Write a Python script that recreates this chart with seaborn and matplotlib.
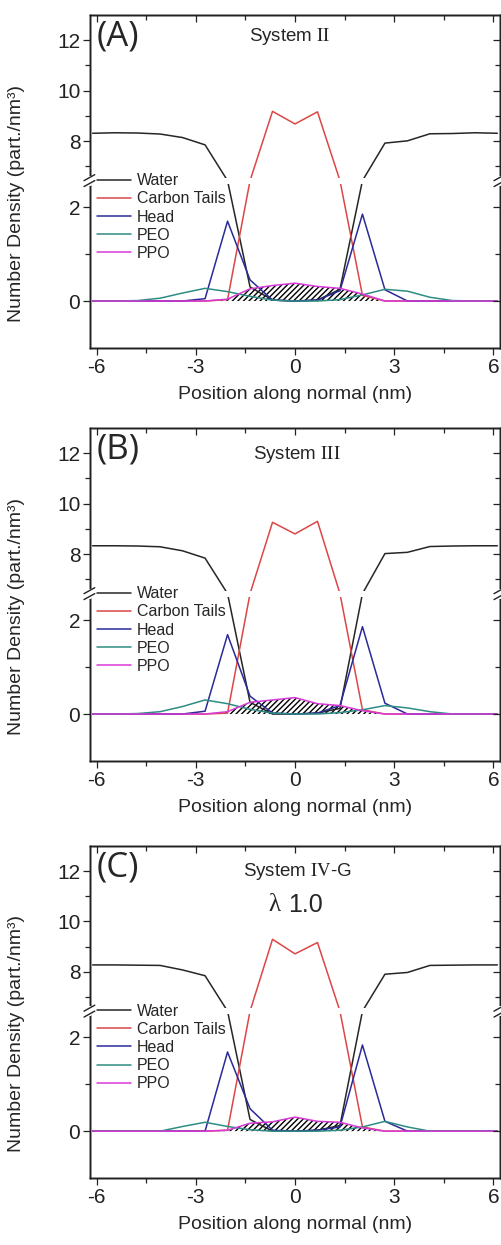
import numpy as np
import pandas as pd
import matplotlib
matplotlib.use("Agg")
import matplotlib.pyplot as plt
import seaborn as sns
from matplotlib.lines import Line2D

# ---------------------------------------------------------------- data
positions = [-6.12, -5.44, -4.76, -4.08, -3.40, -2.72, -2.04, -1.36, -0.68, 0.0,
             0.68, 1.36, 2.04, 2.72, 3.40, 4.08, 4.76, 5.44, 6.12]

water_a = [8.31, 8.33, 8.32, 8.28, 8.14, 7.85, 4.5, 0.30, 0.02, 0.0,
           0.02, 0.25, 4.5, 7.92, 8.01, 8.29, 8.30, 8.33, 8.31]
carbon_a = [0, 0, 0, 0, 0, 0, 0.03, 4.5, 9.18, 8.68, 9.16, 4.5, 0.12, 0, 0, 0, 0, 0, 0]
head_a = [0, 0, 0, 0, 0, 0.05, 1.70, 0.45, 0.02, 0, 0.02, 0.22, 1.85, 0.24, 0, 0, 0, 0, 0]
peo_a = [0, 0, 0.01, 0.06, 0.17, 0.27, 0.20, 0.10, 0.02, 0, 0, 0.03, 0.13, 0.25, 0.21, 0.08, 0.01, 0, 0]
ppo_a = [0, 0, 0, 0, 0, 0, 0.04, 0.26, 0.33, 0.38, 0.31, 0.27, 0.15, 0, 0, 0, 0, 0, 0]

water_b = [8.33, 8.33, 8.32, 8.29, 8.13, 7.84, 4.5, 0.25, 0.0, 0.0,
           0.02, 0.12, 4.5, 8.02, 8.07, 8.30, 8.32, 8.33, 8.33]
carbon_b = [0, 0, 0, 0, 0, 0, 0.02, 4.5, 9.26, 8.80, 9.30, 4.5, 0.09, 0, 0, 0, 0, 0, 0]
head_b = [0, 0, 0, 0, 0, 0.06, 1.69, 0.38, 0.02, 0, 0.02, 0.18, 1.86, 0.23, 0, 0, 0, 0, 0]
peo_b = [0, 0, 0.01, 0.05, 0.16, 0.30, 0.22, 0.10, 0.02, 0, 0, 0.03, 0.09, 0.18, 0.13, 0.05, 0, 0, 0]
ppo_b = [0, 0, 0, 0, 0, 0, 0.05, 0.25, 0.30, 0.35, 0.22, 0.18, 0.07, 0, 0, 0, 0, 0, 0]

water_c = [8.27, 8.27, 8.26, 8.25, 8.07, 7.84, 4.5, 0.25, 0.0, 0.0,
           0.02, 0.12, 4.5, 7.90, 7.97, 8.25, 8.26, 8.27, 8.27]
carbon_c = [0, 0, 0, 0, 0, 0, 0.02, 4.5, 9.29, 8.71, 9.16, 4.5, 0.09, 0, 0, 0, 0, 0, 0]
head_c = [0, 0, 0, 0, 0, 0.0, 1.69, 0.48, 0.02, 0, 0.02, 0.09, 1.84, 0.21, 0, 0, 0, 0, 0]
peo_c = [0, 0, 0, 0.0, 0.10, 0.19, 0.10, 0.03, 0.0, 0, 0, 0.02, 0.09, 0.21, 0.09, 0.0, 0, 0, 0]
ppo_c = [0, 0, 0, 0, 0, 0, 0.02, 0.17, 0.20, 0.30, 0.21, 0.19, 0.07, 0, 0, 0, 0, 0, 0]

series_names = ["Water", "Carbon Tails", "Head", "PEO", "PPO"]
series_colors = ["#262626", "#dc4646", "#2a2a98", "#2e8c84", "#d83ad8"]
panel_letters = ["(A)", "(B)", "(C)"]
system_names = [r"System $\mathrm{II}$", r"System $\mathrm{III}$", r"System $\mathrm{IV}$-G"]
lambda_note = ["", "", "1.0"]
x_major = [-6, -3, 0, 3, 6]
x_minor = [-4.5, -1.5, 1.5, 4.5]
y_major = [0, 2, 8, 10, 12]
y_minor = [1, 7, 9, 11]

panels = [
    [water_a, carbon_a, head_a, peo_a, ppo_a],
    [water_b, carbon_b, head_b, peo_b, ppo_b],
    [water_c, carbon_c, head_c, peo_c, ppo_c],
]

# ---------------------------------------------------------------- style
sns.set_style("ticks")
plt.rcParams["font.family"] = ["Liberation Sans", "DejaVu Sans"]
plt.rcParams["mathtext.fontset"] = "stix"
plt.rcParams["axes.unicode_minus"] = False
plt.rcParams["hatch.linewidth"] = 1.0
plt.rcParams["hatch.color"] = "black"

W, H = 502, 1245
fig = plt.figure(figsize=(W / 100, H / 100), dpi=100)

# broken y axis: lower block [-1, 2.5], compressed gap, upper block [6.55, 13]
Y_MIN, LOW_TOP, UP_BOT, Y_MAX = -1.0, 2.5, 6.55, 13.0
S_LOW, GAP, S_UP = 47.5, 6.0, 25.5
d1 = (LOW_TOP - Y_MIN) * S_LOW
d2 = d1 + GAP
d3 = d2 + (Y_MAX - UP_BOT) * S_UP
knots_v = np.array([-1000.0, Y_MIN, LOW_TOP, UP_BOT, Y_MAX, 1000.0])
knots_d = np.array([(-1000.0 - Y_MIN) * S_LOW, 0.0, d1, d2, d3, d3 + (1000.0 - Y_MAX) * S_UP])


def fwd(v):
    return np.interp(v, knots_v, knots_d)


def inv(d):
    return np.interp(d, knots_d, knots_v)


frac_lo, frac_hi = d1 / d3, d2 / d3

tops = [15, 428, 846]
bottoms = [348, 761, 1178]
left_px, right_px = 90, 500
palette = dict(zip(series_names, series_colors))

for i, data in enumerate(panels):
    top, bot = tops[i], bottoms[i]
    ax_h = bot - top
    ax_w = right_px - left_px
    ax = fig.add_axes([left_px / W, 1 - bot / H, ax_w / W, ax_h / H])
    ax.set_yscale("function", functions=(fwd, inv))

    df = pd.DataFrame({
        "position": positions * len(series_names),
        "density": np.concatenate(data),
        "series": np.repeat(series_names, len(positions)),
    })

    ppo = data[4]
    ax.fill_between(positions, 0, ppo, facecolor="none", edgecolor="black",
                    hatch="//////", linewidth=0, zorder=1.5)
    sns.lineplot(data=df, x="position", y="density", hue="series",
                 hue_order=series_names, palette=palette, sort=False,
                 estimator=None, lw=1.1, ax=ax, legend=False, zorder=2)

    # hide the data inside the axis break
    ax.axhspan(LOW_TOP, UP_BOT, color="white", lw=0, zorder=2.3)

    ax.set_xlim(-6.2, 6.2)
    ax.set_ylim(Y_MIN, Y_MAX)
    ax.set_xticks(x_major)
    ax.set_xticks(x_minor, minor=True)
    ax.set_yticks(y_major)
    ax.set_yticks(y_minor, minor=True)
    ax.set_yticklabels([str(v) for v in y_major])
    ax.set_xticklabels([str(v) for v in x_major])
    ax.tick_params(which="both", direction="out", width=0.9, colors="#222222",
                   labelsize=15, pad=2)
    ax.tick_params(which="major", length=5)
    ax.tick_params(which="minor", length=3.5)
    for sp in ax.spines.values():
        sp.set_linewidth(1.0)
        sp.set_color("#222222")

    ax.set_xlabel("Position along normal (nm)", fontsize=14)
    ax.set_ylabel("Number Density (part./nm³)", fontsize=14)
    ax.xaxis.set_label_coords(0.5, -(386 - 348) / 333)
    ax.yaxis.set_label_coords(-0.159, 0.435)

    # opposite axes with inward ticks
    axr = ax.twinx()
    axr.set_yscale("function", functions=(fwd, inv))
    axr.set_ylim(Y_MIN, Y_MAX)
    axr.set_yticks(y_major)
    axr.set_yticks(y_minor, minor=True)
    axr.tick_params(which="both", direction="in", labelright=False, width=0.9,
                    colors="#222222")
    axr.tick_params(which="major", length=5)
    axr.tick_params(which="minor", length=3.5)
    axt = ax.twiny()
    axt.set_xlim(-6.2, 6.2)
    axt.set_xticks(x_major)
    axt.set_xticks(x_minor, minor=True)
    axt.tick_params(which="both", direction="in", labeltop=False, width=0.9,
                    colors="#222222")
    axt.tick_params(which="major", length=5)
    axt.tick_params(which="minor", length=3.5)
    for a in (axr, axt):
        for sp in a.spines.values():
            sp.set_linewidth(1.0)
            sp.set_color("#222222")

    # break marks on both vertical spines
    dx, dy = 6 / ax_w, 3 / ax_h
    for x0 in (0.0, 1.0):
        fig.add_artist(Line2D([x0, x0], [frac_lo, frac_hi], transform=ax.transAxes,
                              color="white", lw=3, zorder=5))
        for yb in (frac_lo, frac_hi):
            fig.add_artist(Line2D([x0 - dx, x0 + dx * 0.8], [yb - dy, yb + dy],
                                  transform=ax.transAxes, color="#222222",
                                  lw=1.0, zorder=6))

    handles = [Line2D([], [], color=c, lw=1.1) for c in series_colors]
    ax.legend(handles, series_names, loc="upper left", bbox_to_anchor=(0.017, 0.525),
              frameon=False, fontsize=11.5, handlelength=2.1, handletextpad=0.4,
              labelspacing=0.2, borderpad=0, borderaxespad=0)

    ax.text(0.015, 0.985, panel_letters[i], transform=ax.transAxes, fontsize=25,
            family=["Open Sans", "DejaVu Sans"], va="top", ha="left")
    sys_y = [0.934, 0.919, 0.922][i]
    sys_x = [0.488, 0.505, 0.505][i]
    ax.text(sys_x, sys_y, system_names[i], transform=ax.transAxes, fontsize=13.5,
            ha="center", va="center")
    if lambda_note[i]:
        ax.text(0.465, 0.822, "λ", transform=ax.transAxes, fontsize=18,
                family=["Liberation Serif", "DejaVu Serif"], ha="right", va="center")
        ax.text(0.483, 0.822, lambda_note[i], transform=ax.transAxes, fontsize=18,
                ha="left", va="center")

fig.savefig("out.png", dpi=100)
